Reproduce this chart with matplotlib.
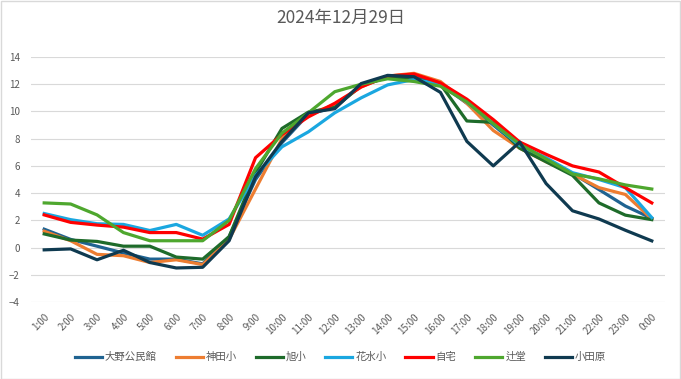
import matplotlib
matplotlib.use("Agg")
import matplotlib.pyplot as plt
from matplotlib.patches import Rectangle

plt.rcParams['font.family'] = ['Noto Sans CJK JP', 'DejaVu Sans']

# hourly temperatures, 2024-12-29
hours = ['1:00', '2:00', '3:00', '4:00', '5:00', '6:00', '7:00', '8:00',
         '9:00', '10:00', '11:00', '12:00', '13:00', '14:00', '15:00', '16:00',
         '17:00', '18:00', '19:00', '20:00', '21:00', '22:00', '23:00', '0:00']

ono = [1.35, 0.6, 0.1, -0.4, -0.85, -0.85, -1.2, 0.8, 5.0, 7.7, 9.8, 10.3,
       11.9, 12.6, 12.6, 12.0, 10.6, 9.0, 7.4, 6.4, 5.45, 4.26, 3.05, 2.15]
kanda = [1.2, 0.5, -0.5, -0.6, -1.1, -0.9, -1.25, 0.6, 4.3, 8.0, 9.8, 10.5,
         11.8, 12.6, 12.8, 12.2, 10.6, 8.6, 7.3, 6.3, 5.4, 4.4, 3.9, 2.1]
asahi = [1.0, 0.55, 0.45, 0.1, 0.1, -0.7, -0.85, 0.8, 5.5, 8.75, 9.95, 10.3,
         11.9, 12.5, 12.4, 12.0, 9.3, 9.2, 7.3, 6.3, 5.3, 3.28, 2.38, 2.05]
hanamizu = [2.5, 2.05, 1.75, 1.7, 1.25, 1.7, 0.9, 2.1, 5.3, 7.4, 8.5, 9.9,
            11.0, 11.95, 12.35, 12.0, 10.7, 9.1, 7.5, 6.6, 5.5, 5.0, 4.4, 2.2]
jitaku = [2.4, 1.85, 1.65, 1.5, 1.1, 1.1, 0.62, 1.7, 6.6, 8.3, 9.6, 10.6,
          11.8, 12.6, 12.75, 12.1, 10.9, 9.4, 7.75, 6.85, 6.0, 5.55, 4.4, 3.28]
tsujido = [3.28, 3.2, 2.4, 1.1, 0.5, 0.5, 0.5, 2.0, 5.8, 8.4, 9.9, 11.45,
           12.0, 12.4, 12.2, 11.85, 10.7, 9.1, 7.6, 6.5, 5.4, 5.05, 4.6, 4.3]
odawara = [-0.17, -0.1, -0.9, -0.2, -1.1, -1.5, -1.45, 0.5, 5.2, 7.8, 9.9, 10.2,
           12.05, 12.65, 12.55, 11.4, 7.8, 6.0, 7.75, 4.7, 2.7, 2.1, 1.27, 0.49]

names = ['大野公民館', '神田小', '旭小', '花水小', '自宅', '辻堂', '小田原']
colors = ['#1F6391', '#ED7D31', '#1E6B2A', '#1AA7E0', '#FF0000', '#4EA72E', '#0F3A50']
series = [ono, kanda, asahi, hanamizu, jitaku, tsujido, odawara]

fig = plt.figure(figsize=(6.81, 3.79), dpi=100)
ax = fig.add_axes([0.0455, 0.2032, 0.931, 0.6464])

x = list(range(len(hours)))
for vals, name, c in zip(series, names, colors):
    ax.plot(x, vals, color=c, linewidth=2.3, label=name, solid_joinstyle='round')

ax.set_xlim(-0.5, len(hours) - 0.5)
ax.set_ylim(-4, 14)
ax.set_yticks(range(-4, 15, 2))
ax.set_xticks(x)
ax.set_xticklabels(hours, rotation=45, ha='right', rotation_mode='anchor')
ax.tick_params(axis='both', length=0, labelsize=7, labelcolor='#595959')
ax.tick_params(axis='x', pad=7)
ax.tick_params(axis='y', pad=8)
ax.grid(axis='y', color='#d9d9d9', linewidth=0.8)
ax.set_axisbelow(True)
for s in ax.spines.values():
    s.set_visible(False)

fig.text(0.5, 0.953, '2024年12月29日', ha='center', va='center',
         fontsize=12.5, color='#595959')

fig.legend(loc='center', bbox_to_anchor=(0.5, 0.058), ncol=7, frameon=False,
           fontsize=7.5, labelcolor='#595959', handlelength=2.6,
           handletextpad=0.3, columnspacing=1.8)

fig.patches.append(Rectangle((0.001, 0.001), 0.997, 0.997, transform=fig.transFigure,
                             fill=False, edgecolor='#d9d9d9', linewidth=1))

fig.savefig('out.png', dpi=100)
